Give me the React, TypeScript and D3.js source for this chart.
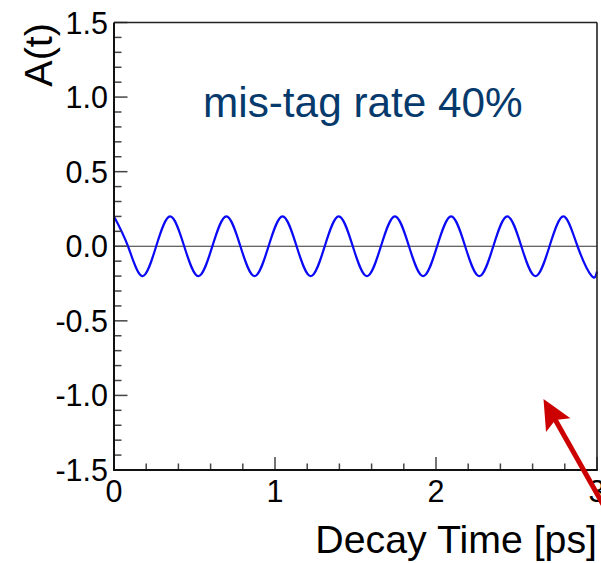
import React from "react";
import * as d3 from "d3";

// Asymmetry curve: extrema and zero crossings (t in ps, A(t))
const curveT = [
  0, 0.087, 0.175, 0.262, 0.349, 0.436, 0.524, 0.611, 0.698, 0.785, 0.873, 0.96,
  1.047, 1.134, 1.222, 1.309, 1.396, 1.483, 1.571, 1.658, 1.745, 1.832, 1.92,
  2.007, 2.094, 2.181, 2.269, 2.356, 2.443, 2.53, 2.618, 2.705, 2.792, 2.879,
  2.967, 3.0,
];
const curveA = [
  0.2, 0, -0.2, 0, 0.2, 0, -0.2, 0, 0.2, 0, -0.2, 0,
  0.2, 0, -0.2, 0, 0.2, 0, -0.2, 0, 0.2, 0, -0.2,
  0, 0.2, 0, -0.2, 0, 0.2, 0, -0.2, 0, 0.2, 0,
  -0.2, -0.17,
];

const xMajor = [0, 1, 2, 3];
const xMajorLabels = ["0", "1", "2", "3"];
const xMinor = [0.2, 0.4, 0.6, 0.8, 1.2, 1.4, 1.6, 1.8, 2.2, 2.4, 2.6, 2.8];
const yMajor = [-1.5, -1.0, -0.5, 0.0, 0.5, 1.0, 1.5];
const yMajorLabels = ["-1.5", "-1.0", "-0.5", "0.0", "0.5", "1.0", "1.5"];
const yMinor = [
  -1.4, -1.3, -1.2, -1.1, -0.9, -0.8, -0.7, -0.6, -0.4, -0.3, -0.2, -0.1,
  0.1, 0.2, 0.3, 0.4, 0.6, 0.7, 0.8, 0.9, 1.1, 1.2, 1.3, 1.4,
];

const annotation = "mis-tag rate 40%";
const xTitle = "Decay Time [ps]";
const yTitle = "A(t)";

const FONT = "'Liberation Sans', Arial, Helvetica, sans-serif";

export default function App() {
  const W = 601;
  const H = 563;
  const left = 114;
  const right = 597;
  const top = 22.5;
  const bottom = 470;

  const x = d3.scaleLinear().domain([0, 3]).range([left, right]);
  const y = d3.scaleLinear().domain([-1.5, 1.5]).range([bottom, top]);

  const pts: [number, number][] = curveT.map((t, i) => [t, curveA[i]]);
  const line = d3
    .line<[number, number]>()
    .x((d) => x(d[0]))
    .y((d) => y(d[1]))
    .curve(d3.curveNatural);

  // arrow geometry (annotation pointing into the plot)
  const tip = [543.5, 399];
  const tail = [640, 570];
  const dx = tail[0] - tip[0];
  const dy = tail[1] - tip[1];
  const len = Math.hypot(dx, dy);
  const ux = dx / len;
  const uy = dy / len;
  const headLen = 30;
  const headHalf = 14;
  const bx = tip[0] + ux * headLen;
  const by = tip[1] + uy * headLen;
  const head = [
    [tip[0], tip[1]],
    [bx - uy * headHalf, by + ux * headHalf],
    [tip[0] + ux * headLen * 0.8, tip[1] + uy * headLen * 0.8],
    [bx + uy * headHalf, by - ux * headHalf],
  ];

  return (
    <svg
      width={W}
      height={H}
      style={{ position: "absolute", left: 0, top: 0, background: "#fff" }}
      fontFamily={FONT}
    >
      <rect x={0} y={0} width={W} height={H} fill="#fff" />

      {/* zero line */}
      <line x1={left} x2={right} y1={y(0)} y2={y(0)} stroke="#333" strokeWidth={1.2} />

      {/* curve */}
      <path d={line(pts) || ""} fill="none" stroke="#0a0af5" strokeWidth={2.2} />

      {/* y ticks */}
      {yMajor.map((v) => (
        <line key={"ym" + v} x1={left} x2={left + 13.5} y1={y(v)} y2={y(v)} stroke="#444" strokeWidth={1.5} />
      ))}
      {yMinor.map((v) => (
        <line key={"yn" + v} x1={left} x2={left + 7.5} y1={y(v)} y2={y(v)} stroke="#444" strokeWidth={1.5} />
      ))}
      {/* x ticks */}
      {xMajor.map((v) => (
        <line key={"xm" + v} x1={x(v)} x2={x(v)} y1={bottom} y2={bottom - 13} stroke="#444" strokeWidth={1.5} />
      ))}
      {xMinor.map((v) => (
        <line key={"xn" + v} x1={x(v)} x2={x(v)} y1={bottom} y2={bottom - 6.5} stroke="#444" strokeWidth={1.5} />
      ))}

      {/* frame */}
      <line x1={left} x2={right} y1={top} y2={top} stroke="#222" strokeWidth={1.6} />
      <line x1={right} x2={right} y1={top} y2={bottom} stroke="#222" strokeWidth={1.6} />
      <line x1={left} x2={left} y1={top} y2={bottom + 1} stroke="#111" strokeWidth={2} />
      <line x1={left - 1} x2={right + 0.8} y1={bottom} y2={bottom} stroke="#111" strokeWidth={2} />

      {/* y tick labels */}
      {yMajor.map((v, i) => (
        <text key={"yl" + v} x={108} y={y(v) + 11} textAnchor="end" fontSize={30.5} fill="#000">
          {yMajorLabels[i]}
        </text>
      ))}
      {/* x tick labels */}
      {xMajor.map((v, i) => (
        <text key={"xl" + v} x={x(v)} y={501.5} textAnchor="middle" fontSize={30.5} fill="#000">
          {xMajorLabels[i]}
        </text>
      ))}

      {/* axis titles */}
      <text x={597} y={553} textAnchor="end" fontSize={39.3} fill="#000">
        {xTitle}
      </text>
      <text
        transform={`translate(52,23) rotate(-90)`}
        textAnchor="end"
        fontSize={39.5}
        fill="#000"
      >
        {yTitle}
      </text>

      {/* annotation */}
      <text x={203} y={116.5} fontSize={42.3} fill="#063a6c">
        {annotation}
      </text>

      {/* red arrow */}
      <line
        x1={tip[0] + ux * headLen * 0.7}
        y1={tip[1] + uy * headLen * 0.7}
        x2={tail[0]}
        y2={tail[1]}
        stroke="#cc0000"
        strokeWidth={5}
      />
      <polygon points={head.map((p) => p.join(",")).join(" ")} fill="#cc0000" />
    </svg>
  );
}
